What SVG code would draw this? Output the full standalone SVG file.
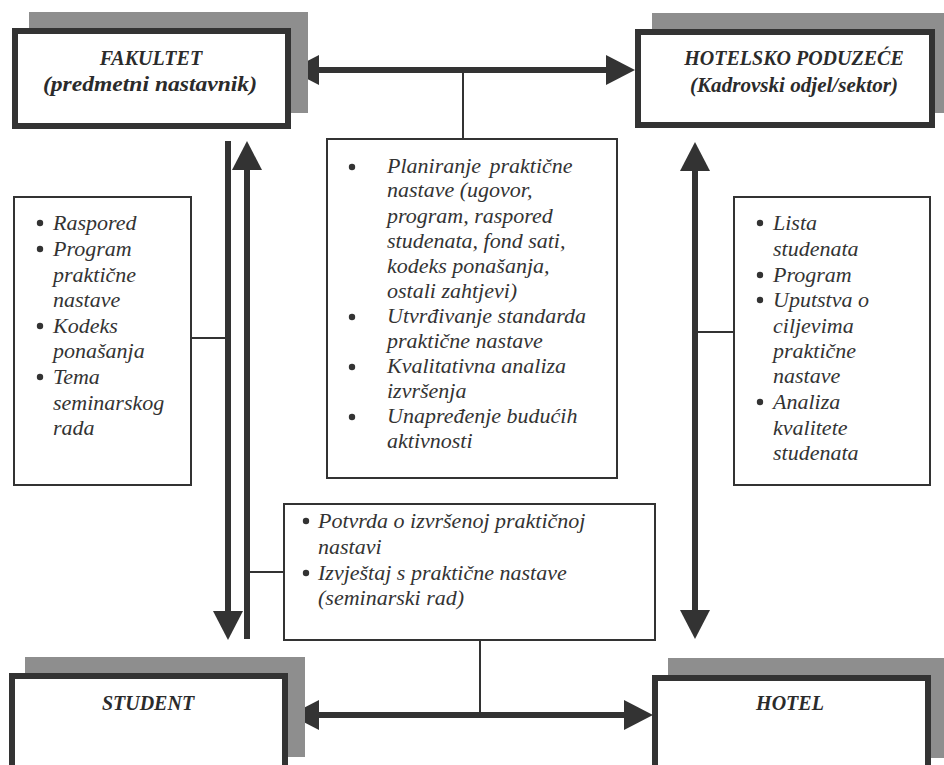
<svg xmlns="http://www.w3.org/2000/svg" width="944" height="765" viewBox="0 0 944 765">
<defs>
<style>
.bg{fill:#ffffff}
.shadow{fill:#8e8e8e}
.hbox{fill:#ffffff;stroke:#333333;stroke-width:6}
.box{fill:#ffffff;stroke:#333333;stroke-width:2}
.head{font-family:"Liberation Serif","Times New Roman",serif;font-size:20px;font-weight:bold;font-style:italic;fill:#2b2b2b;text-anchor:middle}
.body{font-family:"Liberation Serif","Times New Roman",serif;font-size:22px;font-style:italic;fill:#333333}
.bul{fill:#333333}
.thick{stroke:#333333;stroke-width:6;fill:none}
.thin{stroke:#333333;stroke-width:2;fill:none}
</style>
<marker id="ah" markerUnits="userSpaceOnUse" markerWidth="29" markerHeight="30" refX="0" refY="15" orient="auto-start-reverse" overflow="visible">
<path d="M0,0 L29,15 L0,30 Z" fill="#333333"/>
</marker>
</defs>
<rect class="bg" x="0" y="0" width="944" height="765"/>

<g id="connectors">
<line class="thick" x1="319" y1="70" x2="606" y2="70" marker-start="url(#ah)" marker-end="url(#ah)"/>
<line class="thick" x1="319" y1="715" x2="624" y2="715" marker-start="url(#ah)" marker-end="url(#ah)"/>
<line class="thick" x1="695" y1="171" x2="695" y2="610" marker-start="url(#ah)" marker-end="url(#ah)"/>
<line class="thick" x1="228" y1="141" x2="228" y2="611" marker-end="url(#ah)"/>
<line class="thick" x1="247" y1="170" x2="247" y2="639" marker-start="url(#ah)"/>
<line class="thin" x1="463" y1="70" x2="463" y2="139"/>
<line class="thin" x1="191" y1="338" x2="228" y2="338"/>
<line class="thin" x1="695" y1="332" x2="734" y2="332"/>
<line class="thin" x1="247" y1="572" x2="284" y2="572"/>
<line class="thin" x1="480" y1="640" x2="480" y2="715"/>
</g>

<g id="fakultet">
<rect class="shadow" x="29" y="12" width="279" height="101"/>
<rect class="hbox" x="15" y="31" width="273" height="95"/>
<text class="head" x="151" y="65">FAKULTET</text>
<text class="head" x="150" y="91" textLength="214" lengthAdjust="spacingAndGlyphs">(predmetni nastavnik)</text>
</g>

<g id="hotelsko">
<rect class="shadow" x="652" y="13" width="300" height="100"/>
<rect class="hbox" x="638" y="32" width="294" height="93"/>
<text class="head" x="794" y="65">HOTELSKO PODUZEĆE</text>
<text class="head" x="794" y="92" textLength="208" lengthAdjust="spacingAndGlyphs">(Kadrovski odjel/sektor)</text>
</g>

<g id="student">
<rect class="shadow" x="25" y="657" width="280" height="100"/>
<rect class="hbox" x="12" y="676" width="273" height="95"/>
<text class="head" x="148" y="710">STUDENT</text>
</g>

<g id="hotel">
<rect class="shadow" x="668" y="658" width="280" height="100"/>
<rect class="hbox" x="655" y="678" width="273" height="95"/>
<text class="head" x="790" y="710">HOTEL</text>
</g>

<g id="fakultet-list">
<rect class="box" x="14" y="197" width="177" height="288"/>
<circle class="bul" cx="40" cy="223" r="3.2"/>
<circle class="bul" cx="40" cy="249" r="3.2"/>
<circle class="bul" cx="40" cy="326" r="3.2"/>
<circle class="bul" cx="40" cy="377" r="3.2"/>
<text class="body">
<tspan x="53" y="230">Raspored</tspan>
<tspan x="53" y="256">Program</tspan>
<tspan x="53" y="282">praktične</tspan>
<tspan x="53" y="307">nastave</tspan>
<tspan x="53" y="333">Kodeks</tspan>
<tspan x="53" y="358">ponašanja</tspan>
<tspan x="53" y="384">Tema</tspan>
<tspan x="53" y="410">seminarskog</tspan>
<tspan x="53" y="435">rada</tspan>
</text>
</g>

<g id="hotel-list">
<rect class="box" x="734" y="197" width="196" height="288"/>
<circle class="bul" cx="760" cy="223" r="3.2"/>
<circle class="bul" cx="760" cy="275" r="3.2"/>
<circle class="bul" cx="760" cy="300" r="3.2"/>
<circle class="bul" cx="760" cy="402" r="3.2"/>
<text class="body">
<tspan x="773" y="230">Lista</tspan>
<tspan x="773" y="256">studenata</tspan>
<tspan x="773" y="282">Program</tspan>
<tspan x="773" y="307">Uputstva o</tspan>
<tspan x="773" y="333">ciljevima</tspan>
<tspan x="773" y="358">praktične</tspan>
<tspan x="773" y="383">nastave</tspan>
<tspan x="773" y="409">Analiza</tspan>
<tspan x="773" y="435">kvalitete</tspan>
<tspan x="773" y="460">studenata</tspan>
</text>
</g>

<g id="planning">
<rect class="box" x="327" y="139" width="290" height="339"/>
<circle class="bul" cx="352" cy="167" r="3.2"/>
<circle class="bul" cx="352" cy="317" r="3.2"/>
<circle class="bul" cx="352" cy="367" r="3.2"/>
<circle class="bul" cx="352" cy="417" r="3.2"/>
<text class="body">
<tspan x="387" y="173">Planiranje</tspan><tspan x="484" y="173"> praktične</tspan>
<tspan x="387" y="197">nastave (ugovor,</tspan>
<tspan x="387" y="223">program, raspored</tspan>
<tspan x="387" y="248">studenata, fond sati,</tspan>
<tspan x="387" y="273">kodeks ponašanja,</tspan>
<tspan x="387" y="298">ostali zahtjevi)</tspan>
<tspan x="387" y="323">Utvrđivanje standarda</tspan>
<tspan x="387" y="348">praktične nastave</tspan>
<tspan x="387" y="373">Kvalitativna analiza</tspan>
<tspan x="387" y="398">izvršenja</tspan>
<tspan x="387" y="423">Unapređenje budućih</tspan>
<tspan x="387" y="448">aktivnosti</tspan>
</text>
</g>

<g id="report">
<rect class="box" x="284" y="504" width="371" height="136"/>
<circle class="bul" cx="306" cy="521" r="3.2"/>
<circle class="bul" cx="306" cy="573" r="3.2"/>
<text class="body">
<tspan x="318" y="528">Potvrda o izvršenoj praktičnoj</tspan>
<tspan x="318" y="554">nastavi</tspan>
<tspan x="318" y="580">Izvještaj s praktične nastave</tspan>
<tspan x="318" y="605">(seminarski rad)</tspan>
</text>
</g>
</svg>
